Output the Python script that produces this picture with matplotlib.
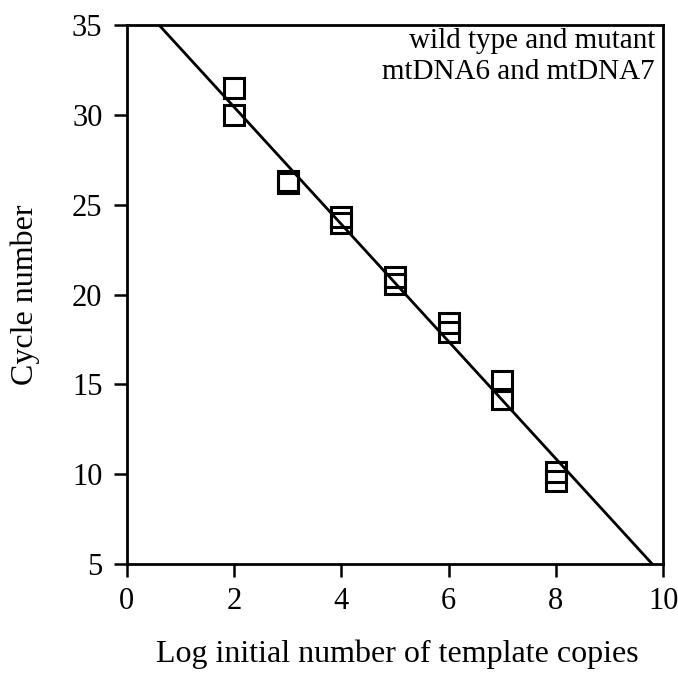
import matplotlib
matplotlib.use("Agg")
import matplotlib.pyplot as plt
import numpy as np

plt.rcParams['font.family'] = ['Liberation Serif', 'DejaVu Serif']

# log copies vs cycle number
log_copies = [2, 2, 3, 3, 4, 4, 5, 5, 6, 6, 7, 7, 8, 8]
cycles = [31.5, 30.0, 26.3, 26.2, 24.3, 24.0, 21.0, 20.6, 18.4, 17.9, 15.2, 14.2, 10.1, 9.6]

# fitted line endpoints
fit_x = [0.6, 9.8]
fit_y = [35.0, 5.0]

fig = plt.figure(figsize=(6.78, 6.74), dpi=100)
ax = fig.add_axes([0.187, 0.163, 0.791, 0.800])

ax.plot(fit_x, fit_y, color='black', linewidth=2)
ax.plot(log_copies, cycles, linestyle='none', marker='s', markersize=15,
        markerfacecolor='none', markeredgecolor='black', markeredgewidth=2.2)

ax.set_xlim(0, 10)
ax.set_ylim(5, 35)
ax.set_xticks(np.arange(0, 11, 2))
ax.set_yticks(np.arange(5, 36, 5))
ax.tick_params(direction='out', length=9.5, width=1.8, labelsize=22)
ax.tick_params(axis='x', pad=7)
ax.tick_params(axis='y', pad=8)
for s in ax.spines.values():
    s.set_linewidth(2)

ax.set_xlabel('Log initial number of template copies', fontsize=23)
ax.set_ylabel('Cycle number', fontsize=23)
ax.xaxis.set_label_coords(0.505, -0.14)
ax.yaxis.set_label_coords(-0.162, 0.5)

ax.text(0.985, 0.995, 'wild type and mutant\nmtDNA6 and mtDNA7', transform=ax.transAxes,
        ha='right', va='top', fontsize=21, linespacing=1.25)

fig.savefig('out.png', dpi=100)
